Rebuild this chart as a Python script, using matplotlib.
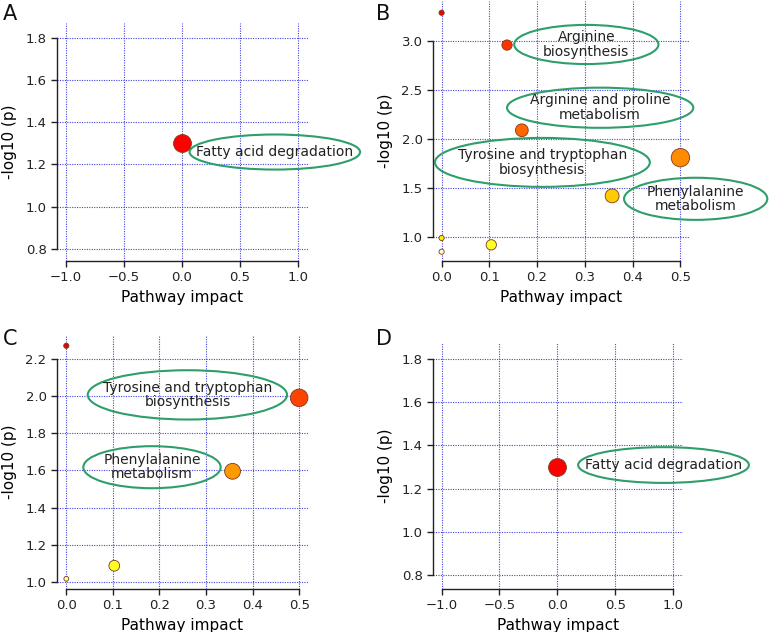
import matplotlib
matplotlib.use("Agg")
import matplotlib.pyplot as plt
from matplotlib.patches import Ellipse

plt.rcParams['font.family'] = ['DejaVu Sans']

# ---------------- data ----------------
# Panel A / D
a_impact = [0.0]
a_logp = [1.30]
a_colors = ["#FF0000"]
a_labels = ["Fatty acid degradation"]

# Panel B
b_impact = [0.0, 0.137, 0.168, 0.5, 0.357, 0.104, 0.0, 0.0]
b_logp = [3.29, 2.96, 2.09, 1.81, 1.42, 0.92, 0.99, 0.85]
b_colors = ["#EE0000", "#FF3300", "#FF6600", "#FF8C00", "#FFCC00",
            "#FFFF22", "#FFEE00", "#FFFFBB"]
b_labels = ["Arginine\nbiosynthesis", "Arginine and proline\nmetabolism",
            "Tyrosine and tryptophan\nbiosynthesis", "Phenylalanine\nmetabolism"]

# Panel C
c_impact = [0.0, 0.5, 0.357, 0.103, 0.0]
c_logp = [2.27, 1.99, 1.595, 1.087, 1.017]
c_colors = ["#EE0000", "#FF4400", "#FF9900", "#FFFF22", "#FFFFAA"]
c_labels = ["Tyrosine and tryptophan\nbiosynthesis", "Phenylalanine\nmetabolism"]

# ---------------- styles ----------------
a_sizes = [165]
b_sizes = [14, 55, 85, 175, 100, 55, 14, 14]
c_sizes = [14, 160, 130, 60, 12]

# label ellipse geometry (center x, center y, width, height) in data units
a_ell = [(0.80, 1.259, 1.47, 0.166)]
b_ell = [(0.303, 2.966, 0.302, 0.40), (0.332, 2.32, 0.39, 0.41),
         (0.211, 1.762, 0.45, 0.50), (0.532, 1.39, 0.30, 0.43)]
c_ell = [(0.26, 2.006, 0.428, 0.265), (0.184, 1.617, 0.295, 0.226)]
d_ell = [(0.916, 1.309, 1.474, 0.165)]

W, H = 769, 632
fig = plt.figure(figsize=(W / 100, H / 100), dpi=100)


def axes_px(l, r, t, b):
    return fig.add_axes([l / W, 1 - b / H, (r - l) / W, (b - t) / H])


GRID = "#4444DD"
GREEN = "#2E9E6A"


def style(ax, xlim, ylim, xticks, yticks, xfmt, yfmt):
    ax.set_xlim(*xlim)
    ax.set_ylim(*ylim)
    ax.set_xticks(xticks)
    ax.set_yticks(yticks)
    ax.set_xticklabels([xfmt(v) for v in xticks])
    ax.set_yticklabels([yfmt(v) for v in yticks])
    for s in ("top", "right"):
        ax.spines[s].set_visible(False)
    ax.spines["left"].set_bounds(yticks[0], yticks[-1])
    ax.spines["bottom"].set_bounds(xticks[0], xticks[-1])
    for s in ("left", "bottom"):
        ax.spines[s].set_linewidth(1.0)
        ax.spines[s].set_color("#222222")
    ax.grid(True, color=GRID, linestyle=(0, (1, 1.2)), linewidth=0.8)
    ax.set_axisbelow(True)
    ax.tick_params(axis="both", labelsize=9.5, colors="#222222", length=4, width=1)
    ax.set_xlabel("Pathway impact", fontsize=11, labelpad=4)
    ax.set_ylabel("-log10 (p)", fontsize=11, labelpad=6)


def fmt1(v):
    return f"{v:.1f}".replace("-", "\u2212")


def draw(ax, xs, ys, cols, sizes, ells, labels):
    for (cx, cy, w, h), lab in zip(ells, labels):
        ax.add_patch(Ellipse((cx, cy), w, h, fill=False, edgecolor=GREEN,
                             linewidth=1.5, zorder=3, clip_on=False))
        ax.text(cx, cy, lab, ha="center", va="center", fontsize=10,
                color="#222222", linespacing=1.05, zorder=4, clip_on=False)
    ax.scatter(xs, ys, s=sizes, c=cols, edgecolors="#7a3a20", linewidths=0.6,
               zorder=5, clip_on=False)


# Panel A
axA = axes_px(57, 308, 23, 261)
style(axA, (-1.078, 1.086), (0.743, 1.87), [-1.0, -0.5, 0.0, 0.5, 1.0],
      [0.8, 1.0, 1.2, 1.4, 1.6, 1.8], fmt1, fmt1)
draw(axA, a_impact, a_logp, a_colors, a_sizes, a_ell, a_labels)

# Panel B
axB = axes_px(433, 689, 1, 261)
style(axB, (-0.018, 0.518), (0.755, 3.41), [0.0, 0.1, 0.2, 0.3, 0.4, 0.5],
      [1.0, 1.5, 2.0, 2.5, 3.0], fmt1, fmt1)
draw(axB, b_impact, b_logp, b_colors, b_sizes, b_ell, b_labels)

# Panel C
axC = axes_px(57, 308, 335, 589)
style(axC, (-0.02, 0.519), (0.962, 2.328), [0.0, 0.1, 0.2, 0.3, 0.4, 0.5],
      [1.0, 1.2, 1.4, 1.6, 1.8, 2.0, 2.2], fmt1, fmt1)
draw(axC, c_impact, c_logp, c_colors, c_sizes, c_ell, c_labels)

# Panel D
axD = axes_px(433, 683, 343, 589)
style(axD, (-1.074, 1.084), (0.737, 1.872), [-1.0, -0.5, 0.0, 0.5, 1.0],
      [0.8, 1.0, 1.2, 1.4, 1.6, 1.8], fmt1, fmt1)
draw(axD, a_impact, a_logp, a_colors, a_sizes, d_ell, a_labels)

for lab, x, y in (("A", 3, 4), ("B", 376, 4), ("C", 3, 329), ("D", 376, 329)):
    fig.text(x / W, 1 - y / H, lab, fontsize=15, ha="left", va="top", color="#111111")

fig.savefig("out.png", dpi=100)
